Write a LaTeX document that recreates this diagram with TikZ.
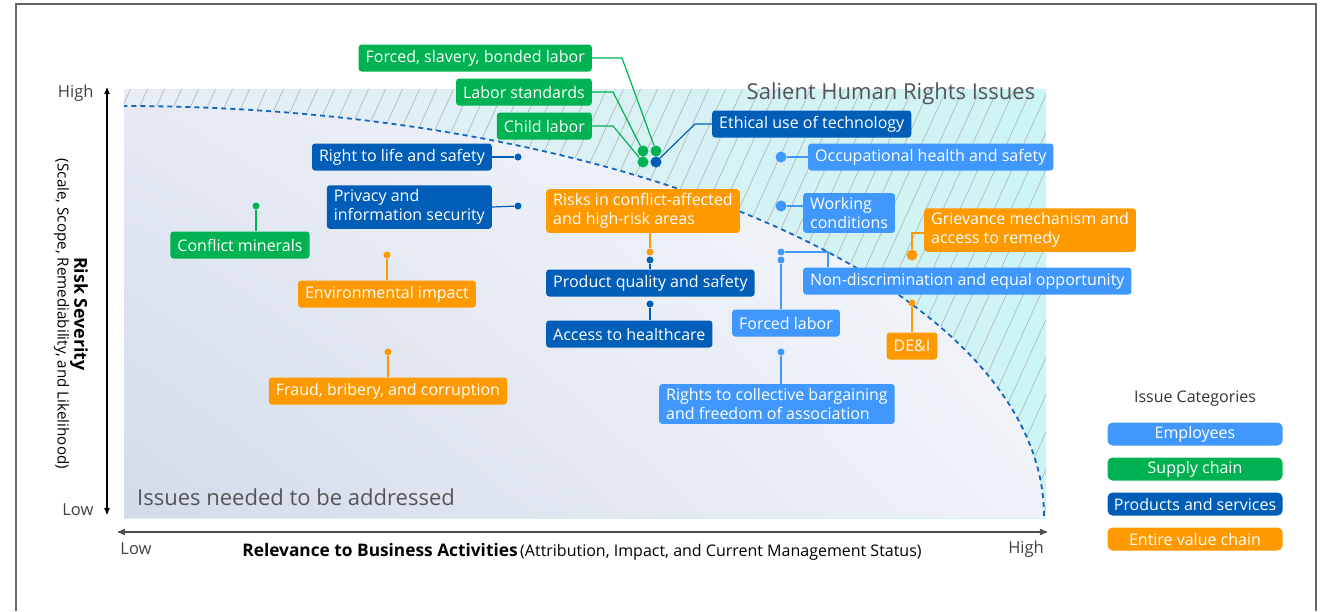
\documentclass[tikz,border=0pt]{standalone}
\usepackage{fontspec}
\setmainfont{Open Sans}
\usetikzlibrary{positioning}
\usetikzlibrary{arrows}
\usetikzlibrary{shadings}
\definecolor{empc}{RGB}{64,152,255}
\definecolor{supc}{RGB}{0,178,82}
\definecolor{prodc}{RGB}{0,94,184}
\definecolor{valc}{RGB}{255,153,0}
\definecolor{inkc}{RGB}{85,85,85}
\definecolor{curvec}{RGB}{21,101,192}
\definecolor{bandl}{RGB}{231,237,246}
\definecolor{bandr}{RGB}{204,244,244}
\definecolor{fieldll}{RGB}{211,219,234}
\definecolor{fieldul}{RGB}{228,233,243}
\definecolor{fieldlr}{RGB}{239,242,248}
\definecolor{fieldur}{RGB}{250,250,252}
\tikzset{node distance=35pt,
    issue/.style={
        rounded corners=3pt,
        text=white,
        inner xsep=7pt,
        inner ysep=4pt,
        minimum height=27pt,
        align=left,
        font=\fontsize{16}{19.5}\selectfont},
    emp/.style={issue,fill=empc},
    sup/.style={issue,fill=supc},
    prod/.style={issue,fill=prodc},
    val/.style={issue,fill=valc},
    dot/.style={circle,inner sep=0pt,minimum size=7pt,fill=#1},
    bigdot/.style={circle,inner sep=0pt,minimum size=11pt,fill=#1},
    link/.style={draw=#1,line width=1.2pt},
    key/.style={
        rounded corners=5pt,
        fill=#1,
        text=white,
        minimum width=175pt,
        minimum height=23pt,
        inner sep=0pt,
        font=\fontsize{16}{18}\selectfont},
    hatch/.style={draw=black!30,line width=0.6pt},
    axis/.style={
        <->,>=stealth',
        line width=1.2pt},
    tick/.style={
        text=black!75,
        font=\fontsize{16.5}{18}\selectfont}}

\begin{document}
\begin{tikzpicture}[x=1pt,y=-1pt]
    \useasboundingbox (0,0) rectangle (1321,611);
    \draw[black!60,line width=1.5pt] (16,611) -- (16,4) -- (1316,4) -- (1316,611);

    % matrix background
    \shade[left color=bandl,right color=bandr] (124,89) rectangle (1046,518);
    \begin{scope}
        \clip (124,89) -- (1046,89) -- (1046,516)
            -- plot[domain=0:90,samples=90] ({124+920*cos(\x)},{516-410*sin(\x)}) -- cycle;
        \foreach \h in {-200,-183,...,1060}
            \draw[hatch] (\h,518) -- ++(195,-430);
    \end{scope}
    \shade[lower left=fieldll,upper left=fieldul,lower right=fieldlr,upper right=fieldur]
        (124,518) -- plot[domain=90:0,samples=90] ({124+920*cos(\x)},{516-410*sin(\x)}) -- (1046,518) -- cycle;
    \draw[curvec,line width=1.8pt,dash pattern=on 5pt off 4pt]
        plot[domain=0:90,samples=90] ({124+920*cos(\x)},{516-410*sin(\x)});

    \node[text=inkc,font=\fontsize{22}{25}\selectfont] (salient) at (891,94) {Salient Human Rights Issues};
    \node[text=inkc,font=\fontsize{22}{25}\selectfont] (addressed) at (296,497) {Issues needed to be addressed};

    % axes
    \coordinate (ytop) at (107,88);
    \coordinate (ybot) at (107,514);
    \coordinate (xleft) at (118,532);
    \coordinate (xright) at (1047,532);
    \draw[axis] (ybot) -- (ytop);
    \draw[axis,black!70,line width=1.5pt] (xleft) -- (xright);
    \node[tick,anchor=east] (yhigh) at (97,93) {High};
    \node[tick,anchor=east] (ylow) at (97,510) {Low};
    \node[tick] (xlow) at (136,549) {Low};
    \node[tick] (xhigh) at (1026,549) {High};
    \node[rotate=-90,align=center] (ylab) at (71,314)
        {{\bfseries\fontsize{17.8}{21}\selectfont Risk Severity}\\{\fontsize{15.2}{19}\selectfont(Scale, Scope, Remediability, and Likelihood)}};
    \node (xlab) at (582,552)
        {{\bfseries\fontsize{17.3}{20}\selectfont Relevance to Business Activities} {\fontsize{16}{18}\selectfont(Attribution, Impact, and Current Management Status)}};

    % issues
    \node[sup,anchor=east] (1) at (592,58) {Forced, slavery, bonded labor};
    \node[sup,anchor=east] (2) at (592,92) {Labor standards};
    \node[sup,anchor=east] (3) at (592,126) {Child labor};
    \node[prod,anchor=west] (4) at (712,124) {Ethical use of technology};
    \node[prod,anchor=east] (5) at (492,157) {Right to life and safety};
    \node[prod,anchor=east] (6) at (492,207) {Privacy and\\information security};
    \node[sup] (7) at (240,245) {Conflict minerals};
    \node[val] (8) at (387,294) {Environmental impact};
    \node[val] (9) at (388,391) {Fraud, bribery, and corruption};
    \node[val,anchor=west] (10) at (546,211) {Risks in conflict-affected\\and high-risk areas};
    \node[prod,anchor=west] (11) at (546,283) {Product quality and safety};
    \node[prod,anchor=west] (12) at (546,334) {Access to healthcare};
    \node[emp,anchor=west] (13) at (808,157) {Occupational health and safety};
    \node[emp,anchor=west] (14) at (803,213) {Working\\conditions};
    \node[val,anchor=west] (15) at (924,230) {Grievance mechanism and\\access to remedy};
    \node[emp,anchor=west] (16) at (803,281) {Non-discrimination and equal opportunity};
    \node[emp,anchor=west] (17) at (732,323) {Forced labor};
    \node[emp,anchor=west] (18) at (659,404) {Rights to collective bargaining\\and freedom of association};
    \node[val] (19) at (912,346) {DE\&I};

    % dots
    \node[bigdot=supc] (1a) at (656,151) {};
    \node[bigdot=supc] (2a) at (643,151) {};
    \node[bigdot=supc] (3a) at (643,162) {};
    \node[bigdot=prodc] (4a) at (656,162) {};
    \node[dot=prodc] (5a) at (518,157) {};
    \node[dot=prodc] (6a) at (518,206) {};
    \node[dot=supc] (7a) at (256,206) {};
    \node[dot=valc] (8a) at (387,255) {};
    \node[dot=valc] (9a) at (388,352) {};
    \node[dot=valc] (10a) at (650,252) {};
    \node[dot=prodc] (11a) at (650,260) {};
    \node[dot=prodc] (12a) at (650,304) {};
    \node[bigdot=empc] (13a) at (781,157) {};
    \node[bigdot=empc] (14a) at (781,206) {};
    \node[bigdot=valc] (15a) at (912,255) {};
    \node[dot=empc] (16a) at (781,252) {};
    \node[dot=empc] (17a) at (781,260) {};
    \node[dot=empc] (18a) at (781,352) {};
    \node[dot=valc] (19a) at (912,303) {};

    % links
    \draw[link=supc] (1.east) -- ++(30,0) -- (1a);
    \draw[link=supc] (2.east) -- ++(21,0) -- (2a);
    \draw[link=supc] (3.east) -- ++(21,0) -- (3a);
    \draw[link=prodc] (4.west) -- ++(-17,0) -- (4a);
    \draw[link=prodc] (5.east) -- (5a);
    \draw[link=prodc] (6.east) -- (6a);
    \draw[link=supc] (7a) -- (7a |- 7.north);
    \draw[link=valc] (8a) -- (8.north);
    \draw[link=valc] (9a) -- (9.north);
    \draw[link=valc] (10a |- 10.south) -- (10a);
    \draw[link=prodc] (11a) -- (11a |- 11.north);
    \draw[link=prodc] (12a) -- (12a |- 12.north);
    \draw[link=empc] (13a) -- (13a -| 13.west);
    \draw[link=empc] (14a) -- (14a -| 14.west);
    \draw[link=valc] ([yshift=-3pt]15.west) -| (15a);
    \draw[link=empc] (16a) -| ([xshift=25pt]16.north west);
    \draw[link=empc] (17a) -- (17a |- 17.north);
    \draw[link=empc] (18a) -- (18a |- 18.north);
    \draw[link=valc] (19a) -- (19.north);

    % legend
    \node[text=black!80,font=\fontsize{16}{18}\selectfont] (legend) at (1195,399) {Issue Categories};
    \node[key=empc,below of=legend] (e) {Employees};
    \node[key=supc,below of=e] (s) {Supply chain};
    \node[key=prodc,below of=s] (p) {Products and services};
    \node[key=valc,below of=p] (v) {Entire value chain};
\end{tikzpicture}
\end{document}
